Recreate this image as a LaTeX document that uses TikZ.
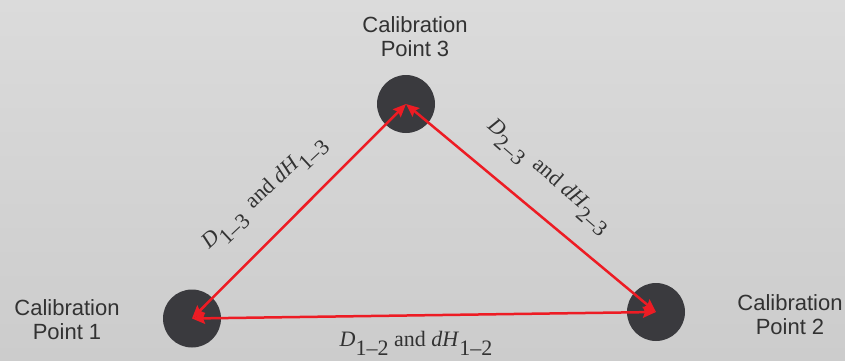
\documentclass[tikz,border=0pt]{standalone}
\usepackage{fontspec}
\setmainfont{Liberation Serif}
\newfontfamily\calfont{Liberation Sans}
\usetikzlibrary{arrows.meta, positioning}

\definecolor{bgtop}{RGB}{219,219,219}
\definecolor{bgbot}{RGB}{204,204,204}
\definecolor{dotgray}{RGB}{58,58,62}
\definecolor{txtgray}{RGB}{50,50,50}
\definecolor{linkred}{RGB}{237,28,36}

\newcommand{\pairlbl}[2][0pt]{\textit{D}\raisebox{-9pt}{#2}\hspace{#1} and \textit{dH}\raisebox{-9pt}{#2}}

\begin{document}
\begin{tikzpicture}[
            x=1pt, y=-1pt,
            semithick
        ]

        \tikzset{
            calpoint/.style={circle, fill=dotgray, draw=none, minimum size=58pt, inner sep=0pt},
            calname/.style={align=center, inner sep=0pt, text=txtgray,
                font=\calfont\fontsize{22}{24}\selectfont},
            pairname/.style={inner sep=0pt, text=txtgray, font=\fontsize{22}{24}\selectfont},
            link/.style={draw=linkred, line width=2.5pt,
                {Stealth[length=13pt, width=11pt, inset=2pt]}-{Stealth[length=13pt, width=11pt, inset=2pt]}}
        }

        % background
        \shade[top color=bgtop, bottom color=bgbot] (0,0) rectangle (845,360);
        \useasboundingbox (0,0) rectangle (845,360);

        % calibration points
        \node[calpoint] (cal1) at (192,318.5) {};
        \node[calpoint] (cal2) at (656,312) {};
        \node[calpoint] (cal3) at (406,104) {};

        \node[calname] (name1) at (67,320) {Calibration\\Point 1};
        \node[calname] (name2) at (790,315) {Calibration\\Point 2};
        \node[calname] (name3) at (415,37) {Calibration\\Point 3};

        % distances between points
        \path[link] (cal1.center) -- (cal3.center);
        \path[link] (cal3.center) -- (cal2.center);
        \path[link] (cal1.center) -- (cal2.center);

        \node[pairname, rotate=43] (pair13) at (265,194) {\pairlbl[5pt]{1–3}};
        \node[pairname, rotate=-41] (pair23) at (548,177) {\pairlbl[5pt]{2–3}};
        \node[pairname] (pair12) at (416,343) {\pairlbl{1–2}};

    \end{tikzpicture}
\end{document}
